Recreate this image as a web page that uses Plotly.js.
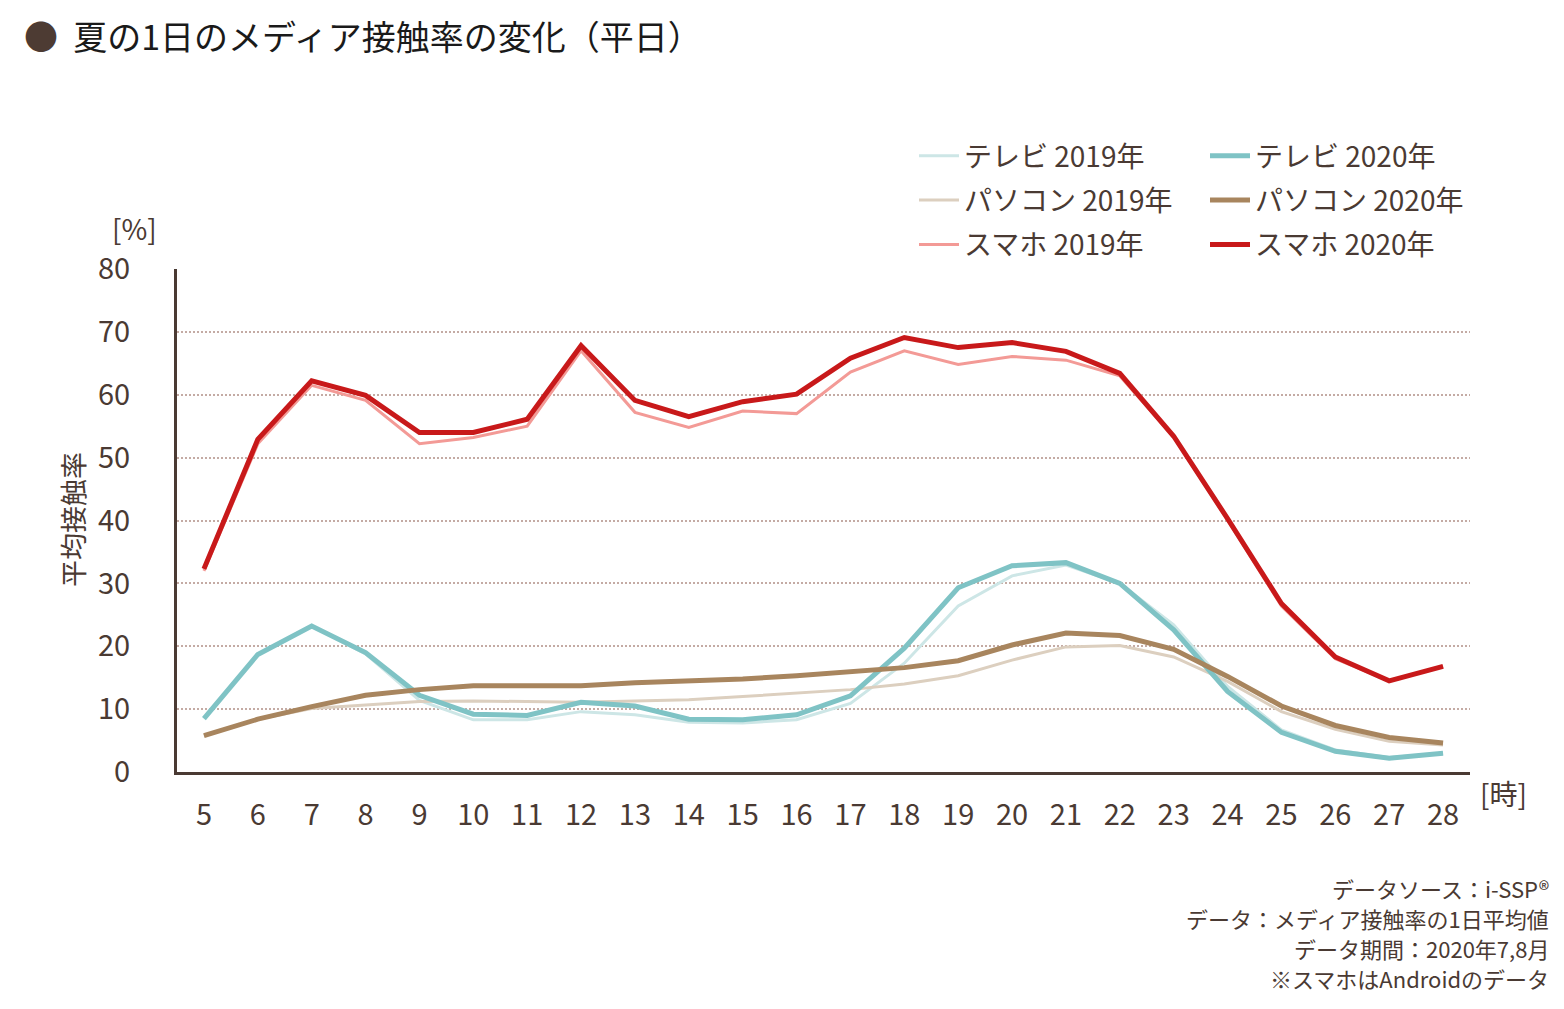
<!DOCTYPE html>
<html>
<head>
<meta charset="utf-8">
<script src="https://cdn.plot.ly/plotly-3.0.1.min.js"></script>
<style>html,body{margin:0;padding:0;background:#fff;}#chart{width:1564px;height:1009px;}</style>
</head>
<body>
<div id="chart"></div>
<script>
// hours (5 = 5am ... 28 = 4am next day)
const hours = [5,6,7,8,9,10,11,12,13,14,15,16,17,18,19,20,21,22,23,24,25,26,27,28];
const xTickLabels = ["5","6","7","8","9","10","11","12","13","14","15","16","17","18","19","20","21","22","23","24","25","26","27","28"];
const yTickValues = [0,10,20,30,40,50,60,70,80];

const tv2019 = [8.5,18.7,23.2,18.8,11.4,8.3,8.3,9.6,9.1,7.9,7.8,8.3,10.9,17.3,26.4,31.2,32.9,30.0,23.4,13.6,6.7,3.5,2.3,3.0];
const tv2020 = [8.5,18.7,23.2,19.0,12.2,9.2,9.0,11.1,10.5,8.4,8.3,9.1,12.1,19.7,29.3,32.8,33.3,30.0,22.6,12.8,6.3,3.3,2.2,3.0];
const pc2019 = [5.8,8.4,10.1,10.7,11.2,11.3,11.2,11.1,11.3,11.5,12.0,12.6,13.1,14.0,15.3,17.8,19.9,20.1,18.3,14.4,9.6,6.8,4.9,4.3];
const pc2020 = [5.8,8.4,10.4,12.2,13.1,13.7,13.7,13.7,14.2,14.5,14.8,15.3,15.9,16.6,17.7,20.2,22.1,21.7,19.5,15.2,10.5,7.4,5.5,4.6];
const sp2019 = [32.0,52.2,61.5,59.1,52.2,53.2,55.0,67.0,57.2,54.8,57.4,57.0,63.6,67.0,64.8,66.1,65.5,63.0,53.3,40.1,26.4,18.0,14.5,16.8];
const sp2020 = [32.3,52.9,62.2,59.9,54.0,54.0,56.1,67.8,59.1,56.5,58.9,60.1,65.8,69.1,67.5,68.3,66.9,63.4,53.4,40.3,26.8,18.3,14.5,16.8];

const names = ["テレビ 2019年","テレビ 2020年","パソコン 2019年","パソコン 2020年","スマホ 2019年","スマホ 2020年"];
const notes = ["データソース：i-SSP®","データ：メディア接触率の1日平均値","データ期間：2020年7,8月","※スマホはAndroidのデータ"];
const txt = "#4a3a33";
const fontFam = "'Noto Sans CJK JP', 'Noto Sans', sans-serif";

function tr(y, name, color, width, legend) {
  return {x: hours, y: y, name: name, type: "scatter", mode: "lines",
          line: {color: color, width: width}, legend: legend, legendgroup: name, hoverinfo: "skip"};
}

const data = [
  tr(tv2019, names[0], "#cde6e6", 3, "legend"),
  tr(pc2019, names[2], "#dccfbf", 3, "legend"),
  tr(sp2019, names[4], "#f39a96", 3, "legend"),
  tr(tv2020, names[1], "#7fc3c5", 5, "legend2"),
  tr(pc2020, names[3], "#a8855e", 5, "legend2"),
  tr(sp2020, names[5], "#c8191a", 5, "legend2")
];

const legendCommon = {
  xref: "container", yref: "container", yanchor: "top", xanchor: "left",
  orientation: "v", bgcolor: "rgba(0,0,0,0)", borderwidth: 0,
  font: {family: fontFam, size: 28, color: txt},
  traceorder: "grouped", tracegroupgap: 5, itemwidth: 40
};

const noteAnnotations = notes.map((t, i) => ({
  text: t, xref: "paper", yref: "paper", x: (1550-177)/1293, y: (772-(888 + 30*i))/503,
  xanchor: "right", yanchor: "middle", align: "right", showarrow: false, borderpad: 0,
  font: {family: fontFam, size: 22, color: txt}
}));

const layout = {
  width: 1564, height: 1009,
  paper_bgcolor: "#ffffff", plot_bgcolor: "#ffffff",
  margin: {l: 177, r: 94, t: 269, b: 237, autoexpand: false},
  font: {family: fontFam, color: txt},
  title: {
    text: '<span style="color:#4d3b33">●</span>  夏の1日のメディア接触率の変化（平日）',
    xref: "container", x: 24/1564, xanchor: "left",
    yref: "container", y: 1 - 38/1009, yanchor: "middle",
    font: {family: fontFam, size: 34, color: "#1a1a1a"}
  },
  showlegend: true,
  legend: Object.assign({}, legendCommon, {x: 914/1564, y: 1 - 131/1009}),
  legend2: Object.assign({}, legendCommon, {x: 1205/1564, y: 1 - 131/1009}),
  xaxis: {
    range: [4.5, 28.5], tickmode: "array", tickvals: hours, ticktext: xTickLabels,
    showgrid: false, zeroline: false, showline: true, linecolor: txt, linewidth: 3,
    ticks: "", ticklabelstandoff: 15, tickangle: 0,
    tickfont: {family: fontFam, size: 29, color: txt}, fixedrange: true
  },
  yaxis: {
    range: [0, 80], tickmode: "array", tickvals: yTickValues,
    showgrid: true, gridcolor: "#c4aba4", gridwidth: 2, griddash: "2px,2px",
    zeroline: false, showline: true, linecolor: txt, linewidth: 3,
    ticks: "", ticklabelstandoff: 38,
    tickfont: {family: fontFam, size: 29, color: txt}, fixedrange: true
  },
  annotations: [
    {text: "[%]", xref: "paper", yref: "paper", x: (134-177)/1293, y: (772-228)/503,
     xanchor: "center", yanchor: "middle", showarrow: false, font: {family: fontFam, size: 28, color: txt}},
    {text: "平均接触率", xref: "paper", yref: "paper", x: (72-177)/1293, y: (772-520)/503,
     xanchor: "center", yanchor: "middle", textangle: -90, showarrow: false, font: {family: fontFam, size: 27, color: txt}},
    {text: "[時]", xref: "paper", yref: "paper", x: (1503-177)/1293, y: (772-793)/503,
     xanchor: "center", yanchor: "middle", showarrow: false, font: {family: fontFam, size: 28, color: txt}}
  ].concat(noteAnnotations)
};

Plotly.newPlot("chart", data, layout, {displayModeBar: false, staticPlot: true});
</script>
</body>
</html>
